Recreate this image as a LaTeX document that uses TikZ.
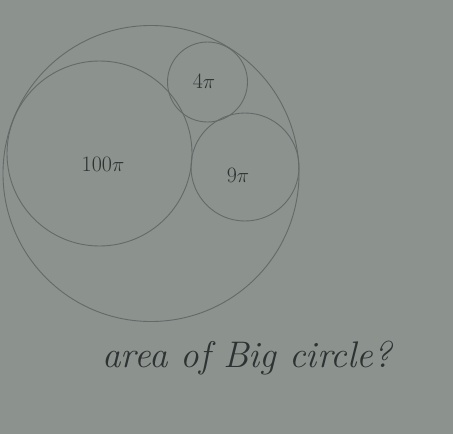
\documentclass[tikz,border=0pt]{standalone}
\definecolor{paper}{RGB}{140,146,142}
\definecolor{pencil}{RGB}{100,106,103}
\definecolor{ink}{RGB}{45,50,50}
\begin{document}
\begin{tikzpicture}[x=1pt,y=-1pt,
  ring/.style={draw=pencil,line width=0.9pt,circle,inner sep=0pt},
  lbl/.style={text=ink,font=\fontsize{22}{26}\selectfont}]
\fill[paper] (0,0) rectangle (453,434);
\useasboundingbox (0,0) rectangle (453,434);
\node[ring,minimum size=296pt] (big) at (151,173.5) {};
\node[ring,minimum size=185pt] (c100) at (99.5,153.5) {};
\node[ring,minimum size=80pt] (c4) at (207.5,82) {};
\node[ring,minimum size=108pt] (c9) at (245,167) {};
\node[lbl] (t100) at (103,164) {100$\pi$};
\node[lbl] (t4) at (204,81) {4$\pi$};
\node[lbl] (t9) at (238,175) {9$\pi$};
\node[text=ink,font=\fontsize{37}{44}\selectfont\itshape] (q) at (247,358) {area of Big circle?};
\end{tikzpicture}
\end{document}
